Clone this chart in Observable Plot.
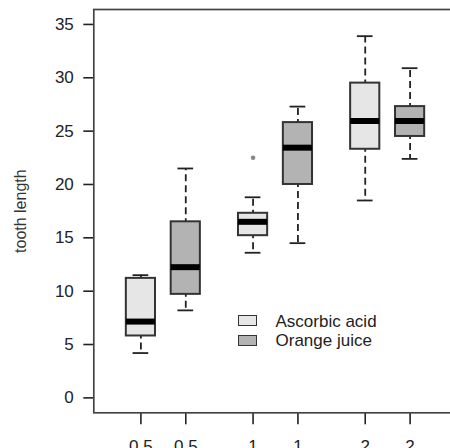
<!DOCTYPE html>
<html><head><meta charset="utf-8">
<script src="https://cdn.jsdelivr.net/npm/d3@7"></script>
<script src="https://cdn.jsdelivr.net/npm/@observablehq/plot@0.6"></script>
<style>
html,body{margin:0;padding:0;overflow:hidden;background:#fff;width:450px;height:448px}
#wrap{position:relative;width:470px;height:460px}
.lbox{position:absolute;box-sizing:border-box;border:1.6px solid #333;width:19px;height:11px}
.ltxt{position:absolute;font-family:"Liberation Sans",Arial,sans-serif;font-size:17px;line-height:17px;color:#222;white-space:nowrap}
</style></head><body><div id="wrap"></div>
<script>
// Data
const doses = ["0.5", "1", "2"];
const supps = ["Ascorbic acid", "Orange juice"];
const suppColors = ["#e6e6e6", "#b3b3b3"];
const vcMin = [4.2, 13.6, 18.5];
const vcQ1  = [5.8, 15.2, 23.3];
const vcMed = [7.15, 16.5, 25.95];
const vcQ3  = [11.2, 17.3, 29.5];
const vcMax = [11.5, 18.8, 33.9];
const ojMin = [8.2, 14.5, 22.4];
const ojQ1  = [9.7, 20.0, 24.5];
const ojMed = [12.25, 23.45, 25.95];
const ojQ3  = [16.5, 25.8, 27.3];
const ojMax = [21.5, 27.3, 30.9];
const outSupp = ["Ascorbic acid"];
const outDose = ["1"];
const outLen  = [22.5];
const yTicks = [0, 5, 10, 15, 20, 25, 30, 35];

const stats = [
  {min: vcMin, q1: vcQ1, med: vcMed, q3: vcQ3, max: vcMax},
  {min: ojMin, q1: ojQ1, med: ojMed, q3: ojQ3, max: ojMax}
];
const offset = [-0.2, 0.2];
const half = 0.13, cap = 0.07;
const rows = [];
doses.forEach((d, i) => supps.forEach((s, j) => {
  const st = stats[j];
  rows.push({dose: d, supp: s, pos: i + 1 + offset[j],
    min: st.min[i], q1: st.q1[i], med: st.med[i], q3: st.q3[i], max: st.max[i]});
}));
rows.sort((a, b) => a.pos - b.pos);
const outliers = outLen.map((v, k) => ({
  pos: doses.indexOf(outDose[k]) + 1 + offset[supps.indexOf(outSupp[k])], len: v}));
const tickPos = rows.map(r => r.pos);
const tickLab = new Map(rows.map(r => [r.pos, r.dose]));

const chart = Plot.plot({
  width: 470, height: 460,
  marginLeft: 93.3, marginRight: 13.3, marginTop: 9, marginBottom: 47.7,
  x: {domain: [0.38, 3.62]},
  y: {domain: [-1.4, 36.4]},
  color: {domain: supps, range: suppColors},
  style: {fontFamily: "'Liberation Sans', Arial, sans-serif", fontSize: "17px", color: "#222", background: "white", overflow: "visible"},
  marks: [
    Plot.axisY(yTicks, {tickSize: 10, tickPadding: 10, label: null, fontSize: 17, strokeWidth: 1.6}),
    Plot.axisX(tickPos, {tickSize: 12, tickPadding: 15, label: null, fontSize: 17, strokeWidth: 1.6, tickFormat: d => tickLab.get(d)}),
    Plot.ruleX(rows, {x: "pos", y1: "q3", y2: "max", stroke: "#222", strokeWidth: 1.8, strokeDasharray: "7,4", strokeDashoffset: 4}),
    Plot.ruleX(rows, {x: "pos", y1: "q1", y2: "min", stroke: "#222", strokeWidth: 1.8, strokeDasharray: "7,4", strokeDashoffset: 4}),
    Plot.ruleY(rows, {y: "max", x1: d => d.pos - cap, x2: d => d.pos + cap, stroke: "#222", strokeWidth: 1.8}),
    Plot.ruleY(rows, {y: "min", x1: d => d.pos - cap, x2: d => d.pos + cap, stroke: "#222", strokeWidth: 1.8}),
    Plot.rect(rows, {x1: d => d.pos - half, x2: d => d.pos + half, y1: "q1", y2: "q3", fill: "supp", stroke: "#333", strokeWidth: 2}),
    Plot.ruleY(rows, {y: "med", x1: d => d.pos - half, x2: d => d.pos + half, stroke: "#000", strokeWidth: 6}),
    Plot.dot(outliers, {x: "pos", y: "len", r: 2.3, fill: "#888", stroke: "none"}),
    Plot.frame({stroke: "#444", strokeWidth: 1.7}),
    Plot.text(["tooth length"], {text: d => d, frameAnchor: "left", textAnchor: "middle", rotate: -90, dx: -73, fontSize: 16, fill: "#333"})
  ]
});
const wrap = document.getElementById("wrap");
wrap.appendChild(chart);

// Legend (inside plot region, as in reference)
const legTop = [314.7, 334.7];
const legBaseTop = [313, 332];
supps.forEach((s, j) => {
  const b = document.createElement("div");
  b.className = "lbox";
  b.style.left = "238px"; b.style.top = legTop[j] + "px";
  b.style.background = suppColors[j];
  wrap.appendChild(b);
  const t = document.createElement("div");
  t.className = "ltxt";
  t.style.left = "275.5px"; t.style.top = legBaseTop[j] + "px";
  t.textContent = s;
  wrap.appendChild(t);
});
</script>
</body></html>
